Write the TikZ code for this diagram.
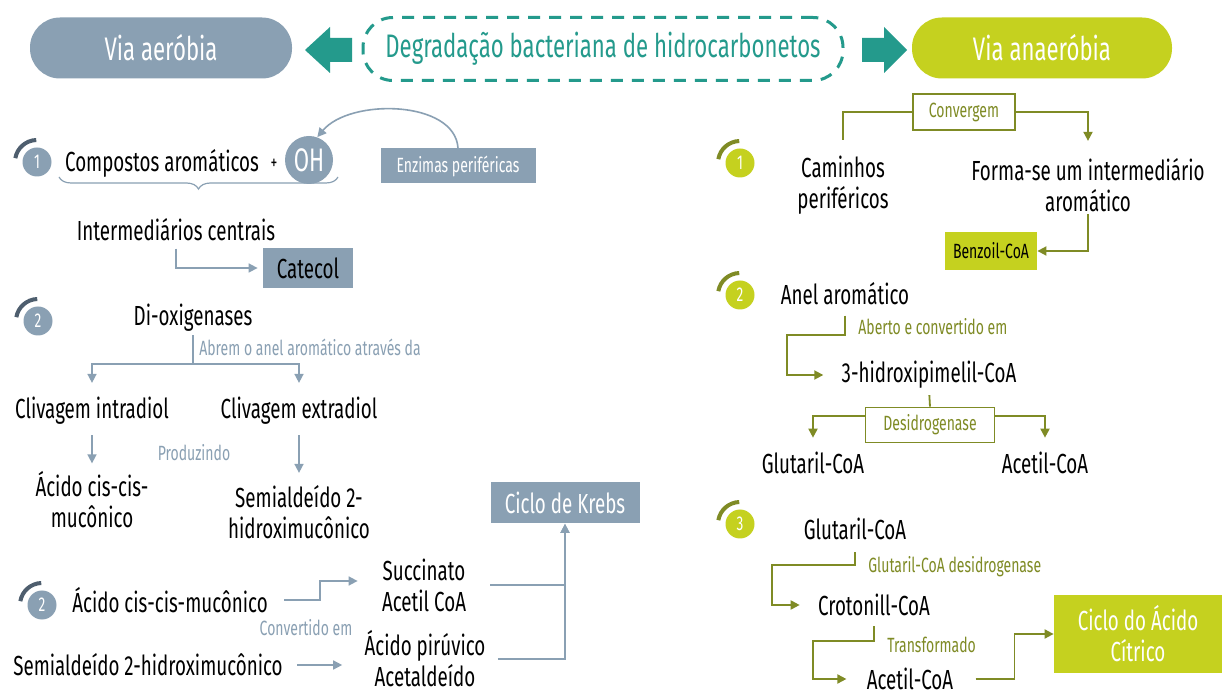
\documentclass[tikz,border=0pt]{standalone}
\usepackage{fontspec}
\setmainfont{Fira Sans}[FakeStretch=0.68]
\usetikzlibrary{arrows.meta,decorations.pathreplacing}
\definecolor{slate}{HTML}{8AA0B3}
\definecolor{slatedark}{HTML}{4E5E6E}
\definecolor{tealdg}{HTML}{249A8C}
\definecolor{limeg}{HTML}{C5D11F}
\definecolor{oliveg}{HTML}{7F8B25}
\newcommand\fmain{\fontsize{13.8}{15.5}\selectfont}
\newcommand\fhead{\fontsize{16.3}{19}\selectfont}
\newcommand\flab{\fontsize{10.3}{12}\selectfont}
\newcommand\fnum{\fontsize{10}{11}\selectfont}

\begin{document}
\begin{tikzpicture}[x=0.5pt,y=-0.5pt,
  txt/.style={font=\fmain, align=center, inner sep=0pt},
  glab/.style={font=\flab, text=slate, inner sep=0pt},
  olab/.style={font=\flab, text=oliveg, inner sep=0pt},
  pill/.style={rounded corners=15pt, minimum height=30.5pt, minimum width=131pt, text=white, font=\fhead},
  gbox/.style={fill=slate, inner sep=0pt},
  lbox/.style={fill=limeg, inner sep=0pt},
  obox/.style={draw=oliveg, line width=0.8pt, fill=white, text=oliveg, font=\flab, inner sep=0pt},
  numc/.style={circle, minimum size=14.5pt, inner sep=0pt, text=white, font=\fnum},
  gline/.style={draw=slate, line width=0.8pt},
  oline/.style={draw=oliveg, line width=0.9pt},
  tip/.style={-{Triangle[length=4.5pt,width=4.5pt]}},
  ]
\fill[white] (0,0) rectangle (1228,695);
\useasboundingbox (0,0) rectangle (1228,695);

% header
\node[pill, fill=slate] (aero) at (161,48) {Via aeróbia};
\node[pill, fill=limeg, minimum width=130pt] (anaero) at (1042,48) {Via anaeróbia};
\node[draw=tealdg, line width=1.5pt, dash pattern=on 6pt off 4.5pt, rounded corners=15pt,
  minimum width=240pt, minimum height=31.5pt, text=tealdg, font=\fhead] (degr) at (603,49) {Degradação bacteriana de hidrocarbonetos};
\fill[tealdg] (352,38) -- (330,38) -- (330,27) -- (305,50) -- (330,73) -- (330,62) -- (352,62) -- cycle;
\fill[tealdg] (862,38) -- (884,38) -- (884,27) -- (907,50) -- (884,73) -- (884,62) -- (862,62) -- cycle;

% step markers
\foreach \nm/\x/\y/\t/\c/\a in {la1/37/162/1/slate/slatedark, la2/38/321/2/slate/slatedark, la3/42/605/2/slate/slatedark,
  ra1/740/163/1/limeg/oliveg, ra2/740/295/2/limeg/oliveg, ra3/740/524/3/limeg/oliveg}{
  \node[numc, fill=\c] (\nm) at (\x,\y) {\t};
  \draw[\a, line width=2pt] (\nm.center) ++(92:11pt) arc[start angle=92, end angle=170, radius=11pt];
}

% via aerobia
\node[txt] (comp) at (162,163) {Compostos aromáticos};
\node[font=\fnum, inner sep=0pt] (plus) at (274,164) {+};
\node[circle, fill=slate, minimum size=24pt, text=white, font=\fhead, inner sep=0pt] (oh) at (309,160) {OH};
\node[gbox, minimum width=77.5pt, minimum height=17.5pt, text=white, font=\flab] (enz) at (458,166) {Enzimas periféricas};
\draw[gline, tip] (enz.north) .. controls (455,100) and (350,98) .. (oh.70);
\draw[draw=slate, line width=0.6pt, decorate, decoration={brace, amplitude=6pt}] (338,177) -- (59,177);
\node[txt] (interm) at (176,230) {Intermediários centrais};
\node[gbox, minimum width=45pt, minimum height=20pt, font=\fmain] (catecol) at (308,268) {Catecol};
\draw[gline, tip, shorten <=3.5pt, shorten >=2.5pt] (interm.south) |- (catecol.west);

\node[txt] (dioxi) at (193,318) {Di-oxigenases};
\node[txt] (clivint) at (92,411) {Clivagem intradiol};
\node[txt] (clivext) at (299,411) {Clivagem extradiol};
\draw[gline, shorten <=1.5pt] (dioxi.south) -- ++(0,32) coordinate (dsplit);
\draw[gline, tip, shorten >=7pt] (dsplit) -| (clivint.north);
\draw[gline, tip, shorten >=7pt] (dsplit) -| (clivext.north);
\node[glab, anchor=west] (abrem) at (199,347) {Abrem o anel aromático através da};
\node[glab] (produz) at (194,453) {Produzindo};
\node[txt] (acmuc1) at (92,500) {Ácido cis-cis-\\mucônico};
\node[txt] (semi1) at (299,512) {Semialdeído 2-\\hidroximucônico};
\draw[gline, tip, shorten <=5pt, shorten >=4pt] (clivint.south) -- (acmuc1.north);
\draw[gline, tip, shorten <=5pt, shorten >=6pt] (clivext.south) -- (semi1.north);
\node[gbox, minimum width=74.5pt, minimum height=20.5pt, text=white, font=\fmain] (krebs) at (565,503) {Ciclo de Krebs};

\node[txt] (acmuc2) at (170,600) {Ácido cis-cis-mucônico};
\node[txt] (succ) at (424,585) {Succinato\\Acetil CoA};
\node[glab] (convert) at (306,628) {Convertido em};
\node[txt] (semi2) at (148,665) {Semialdeído 2-hidroximucônico};
\node[txt] (piruv) at (425,659) {Ácido pirúvico\\Acetaldeído};
\draw[gline, tip, shorten <=8pt, shorten >=12pt] (acmuc2.east) -- ++(52,0) |- ([yshift=2pt]succ.west);
\draw[gline, tip, shorten <=7pt, shorten >=11pt] (semi2.east) -- (semi2.east -| piruv.west);
\draw[gline, tip, shorten <=12pt] (succ.east) -| (krebs.south);
\draw[gline, tip, shorten <=6pt] (piruv.east) -| (krebs.south);

% via anaerobia
\node[obox, minimum width=51pt, minimum height=18pt] (conv) at (964,112) {Convergem};
\node[txt] (camin) at (843,185) {Caminhos\\periféricos};
\node[txt] (forma) at (1088,185) {Forma-se um intermediário\\aromático};
\draw[oline, shorten >=7.5pt] (conv.west) -| (camin.north);
\draw[oline, tip, shorten >=8.5pt] (conv.east) -| (forma.north);
\node[lbox, minimum width=46pt, minimum height=19pt, font=\flab] (benz) at (991,251) {Benzoil-CoA};
\draw[oline, tip, shorten <=1pt] (forma.south) |- (benz.east);

\node[txt] (anel) at (845,294) {Anel aromático};
\node[olab, anchor=west] (aberto) at (858,327) {Aberto e convertido em};
\node[txt] (hidroxi) at (929,375) {3-hidroxipimelil-CoA};
\draw[oline, tip, shorten <=5pt, shorten >=9pt] (anel.south) |- ++(-58,29) |- (hidroxi.west);
\node[obox, minimum width=64.5pt, minimum height=17.5pt] (desid) at (930,425) {Desidrogenase};
\draw[oline, shorten <=3pt] (hidroxi.south) -- (desid.north);
\node[txt] (glut1) at (813,463) {Glutaril-CoA};
\node[txt] (acetil1) at (1045,463) {Acetil-CoA};
\draw[oline, tip, shorten >=7pt] ([yshift=4.5pt]desid.west) -| (glut1.north);
\draw[oline, tip, shorten >=7pt] ([yshift=4.5pt]desid.east) -| (acetil1.north);

\node[txt] (glut2) at (855,529) {Glutaril-CoA};
\node[olab, anchor=west] (glutdes) at (868,567) {Glutaril-CoA desidrogenase};
\node[txt] (croton) at (874,605) {Crotonill-CoA};
\node[olab, anchor=west] (transf) at (887,645) {Transformado};
\node[txt] (acetil2) at (910,679) {Acetil-CoA};
\node[lbox, minimum width=84pt, minimum height=38.5pt, text=white, font=\fmain, align=center] (citrico) at (1138,634) {Ciclo do Ácido\\Cítrico};
\draw[oline, tip, shorten <=6pt, shorten >=9pt] (glut2.south) |- ++(-83,25) |- (croton.west);
\draw[oline, tip, shorten <=5pt, shorten >=10pt] (croton.south) |- ++(-61,25) |- (acetil2.west);
\draw[oline, tip, shorten <=11pt] (acetil2.east) -- ++(61,0) |- (citrico.west);
\end{tikzpicture}
\end{document}
